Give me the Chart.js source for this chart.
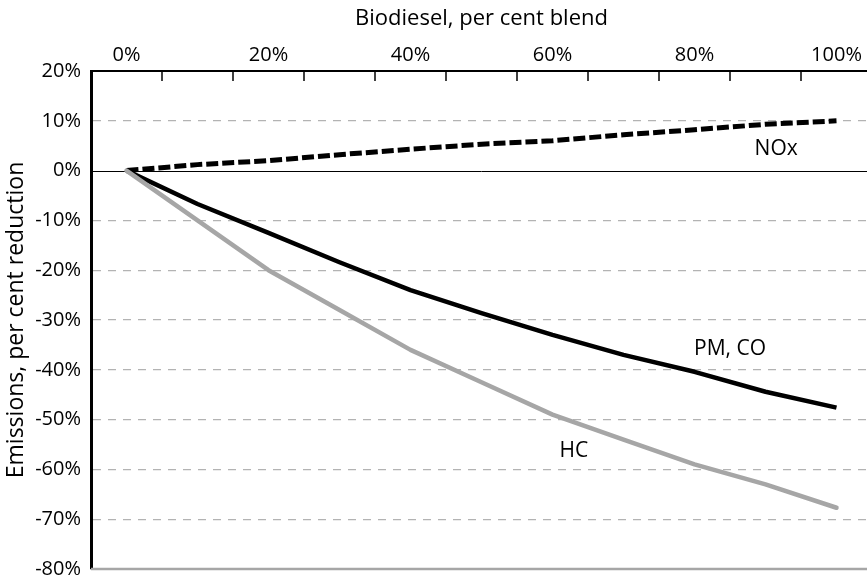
<!DOCTYPE html>
<html>
<head>
<meta charset="utf-8">
<title>Biodiesel emissions</title>
<script src="https://cdn.jsdelivr.net/npm/chart.js"></script>
<style>
  html, body { margin: 0; padding: 0; background: #fff; overflow: hidden; }
  #wrap { width: 867px; height: 580px; overflow: hidden; }
</style>
</head>
<body>
<div id="wrap"><canvas id="emissionsChart" width="872" height="580"></canvas></div>
<script>
// Data
const blendLabels = ['0%', '10%', '20%', '30%', '40%', '50%', '60%', '70%', '80%', '90%', '100%'];
const noxValues  = [0, 1.2, 2.0, 3.2, 4.3, 5.3, 6.0, 7.2, 8.2, 9.3, 10.0];
const pmCoValues = [0, -6.7, -12.5, -18.4, -24.0, -28.6, -33.0, -37.0, -40.4, -44.4, -47.6];
const hcValues   = [0, -10.0, -20.0, -28.0, -36.0, -42.5, -49.0, -54.0, -59.0, -63.0, -67.7];

// Line labels: text, category position (index), value
const seriesNames = ['NOx', 'PM, CO', 'HC'];
const nameIndex   = [9.15, 8.5, 6.3];
const nameValue   = [4.4, -35.8, -56.3];

const FONT = 'Open Sans';

// Extra drawing: zero line, bottom edge, inward tick marks, line names
const extras = {
    id: 'extras',
    beforeDatasetsDraw(chart) {
        const {ctx, chartArea, scales: {y}} = chart;
        ctx.save();
        // bottom edge
        ctx.strokeStyle = '#a6a6a6';
        ctx.lineWidth = 2.5;
        ctx.beginPath();
        ctx.moveTo(chartArea.left, y.getPixelForValue(-80));
        ctx.lineTo(chartArea.right, y.getPixelForValue(-80));
        ctx.stroke();
        // zero line
        ctx.strokeStyle = '#000';
        ctx.lineWidth = 1;
        const y0 = Math.round(y.getPixelForValue(0)) + 0.5;
        ctx.beginPath();
        ctx.moveTo(chartArea.left, y0);
        ctx.lineTo(chartArea.right, y0);
        ctx.stroke();
        ctx.restore();
    },
    afterDatasetsDraw(chart) {
        const {ctx, chartArea, scales: {x, y}} = chart;
        ctx.save();
        // tick marks between categories, pointing into the plot
        ctx.strokeStyle = '#000';
        ctx.lineWidth = 1.5;
        for (let i = 0; i < blendLabels.length - 1; i++) {
            const px = Math.round((x.getPixelForValue(i) + x.getPixelForValue(i + 1)) / 2);
            ctx.beginPath();
            ctx.moveTo(px, chartArea.top);
            ctx.lineTo(px, chartArea.top + 10);
            ctx.stroke();
        }
        // series names
        ctx.fillStyle = '#000';
        ctx.font = '21px "' + FONT + '"';
        ctx.textAlign = 'center';
        ctx.textBaseline = 'middle';
        seriesNames.forEach((name, i) => {
            ctx.fillText(name, x.getPixelForValue(nameIndex[i]), y.getPixelForValue(nameValue[i]));
        });
        ctx.restore();
    }
};

const ctx = document.getElementById('emissionsChart').getContext('2d');
new Chart(ctx, {
    type: 'line',
    data: {
        labels: blendLabels,
        datasets: [
            {
                label: 'HC',
                data: hcValues,
                borderColor: '#a6a6a6',
                borderWidth: 4.5,
                borderCapStyle: 'round'
            },
            {
                label: 'PM, CO',
                data: pmCoValues,
                borderColor: '#000000',
                borderWidth: 4.5
            },
            {
                label: 'NOx',
                data: noxValues,
                borderColor: '#000000',
                borderWidth: 5,
                borderDash: [12, 4]
            }
        ]
    },
    options: {
        responsive: false,
        animation: false,
        layout: { padding: { top: 0, left: 0, right: 0, bottom: 11 } },
        elements: {
            point: { radius: 0 },
            line: { tension: 0, borderJoinStyle: 'round', fill: false }
        },
        plugins: {
            legend: { display: false },
            tooltip: { enabled: false }
        },
        scales: {
            x: {
                position: 'top',
                offset: true,
                grid: { display: false, drawTicks: false },
                border: { display: true, color: '#000', width: 2 },
                ticks: {
                    autoSkip: false,
                    maxRotation: 0,
                    padding: 4,
                    color: '#000',
                    font: { family: FONT, size: 20 },
                    callback: (v, i) => i % 2 === 0 ? blendLabels[i] : ''
                },
                title: {
                    display: true,
                    text: 'Biodiesel, per cent blend',
                    color: '#000',
                    font: { family: FONT, size: 22 },
                    padding: { top: 6, bottom: 0 }
                },
                afterFit: s => { s.height = 71; }
            },
            y: {
                min: -80,
                max: 20,
                grid: {
                    drawTicks: false,
                    lineWidth: 1.2,
                    color: c => (c.tick.value === 0 || c.tick.value === -80 || c.tick.value === 20) ? 'rgba(0,0,0,0)' : '#b3b3b3'
                },
                border: { display: true, color: '#000', width: 3, dash: [8, 7] },
                ticks: {
                    stepSize: 10,
                    padding: 10,
                    color: '#000',
                    font: { family: FONT, size: 20 },
                    callback: v => v + '%'
                },
                title: {
                    display: true,
                    text: 'Emissions, per cent reduction',
                    color: '#000',
                    font: { family: FONT, size: 23 },
                    padding: { top: 3, bottom: 0 }
                },
                afterFit: s => {
                    s.width = 91;
                    s.paddingTop = 0;
                    s.paddingBottom = 0;
                }
            }
        }
    },
    plugins: [extras]
});
</script>
</body>
</html>
